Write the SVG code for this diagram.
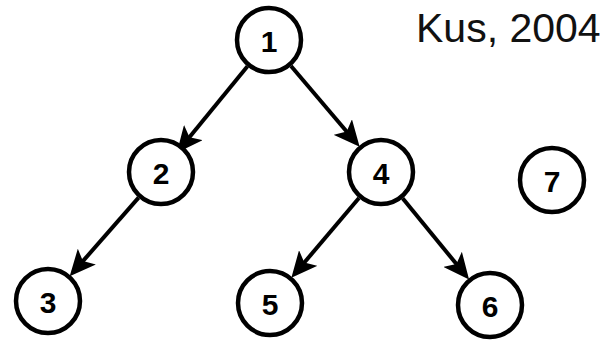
<svg xmlns="http://www.w3.org/2000/svg" width="607" height="342" viewBox="0 0 607 342">
  <style>
    .node circle { fill: #fff; stroke: #000; stroke-width: 4.5; }
    .node text { font-family: "Liberation Sans", Arial, sans-serif; font-weight: bold; font-size: 30px; text-anchor: middle; dominant-baseline: central; fill: #000; }
    .edge { stroke: #000; stroke-width: 4; fill: none; marker-end: url(#head); }
    .cite { font-family: "Liberation Sans", Arial, sans-serif; font-size: 41px; fill: #111; }
  </style>
  <defs>
    <marker id="head" markerUnits="userSpaceOnUse" markerWidth="28" markerHeight="24" viewBox="0 0 28 24" refX="21" refY="12" orient="auto">
      <path d="M0,0 L26,12 L0,24 L6,12 Z" fill="#000"/>
    </marker>
  </defs>
  <rect width="607" height="342" fill="#fff"/>

  <g id="connectors">
    <line class="edge" x1="247.5" y1="66.3" x2="180" y2="148.8"/>
    <line class="edge" x1="291" y1="66" x2="356.4" y2="143"/>
    <line class="edge" x1="138.6" y1="197.6" x2="73" y2="272.4"/>
    <line class="edge" x1="359" y1="198" x2="294.6" y2="274"/>
    <line class="edge" x1="402.6" y1="198.3" x2="465.9" y2="275.6"/>
  </g>

  <g id="node1" class="node"><circle cx="269" cy="40" r="32"/><text x="269" y="41">1</text></g>
  <g id="node2" class="node"><circle cx="161" cy="172" r="32"/><text x="161" y="173">2</text></g>
  <g id="node3" class="node"><circle cx="48" cy="301" r="32"/><text x="48" y="302">3</text></g>
  <g id="node4" class="node"><circle cx="381" cy="172" r="32"/><text x="381" y="173">4</text></g>
  <g id="node5" class="node"><circle cx="270" cy="303" r="32"/><text x="270" y="304">5</text></g>
  <g id="node6" class="node"><circle cx="490" cy="305" r="32"/><text x="490" y="306">6</text></g>
  <g id="node7" class="node"><circle cx="552" cy="180" r="32"/><text x="552" y="181">7</text></g>

  <text class="cite" x="416" y="42">Kus, 2004</text>
</svg>
